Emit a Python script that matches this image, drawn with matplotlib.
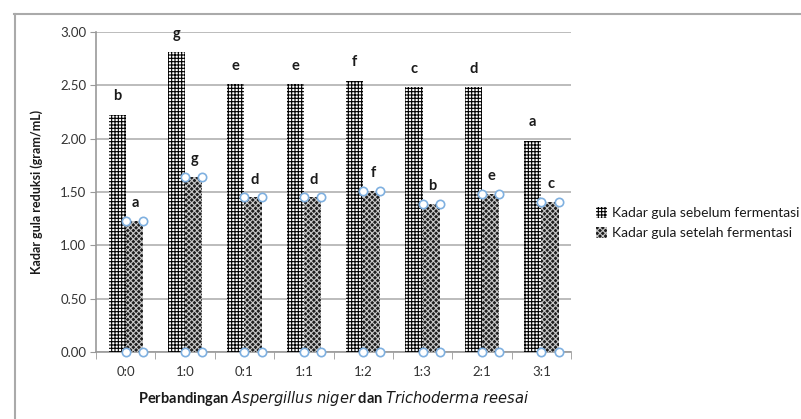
import matplotlib
matplotlib.use("Agg")
import matplotlib.pyplot as plt
import numpy as np

plt.rcParams['font.family'] = ['Lato', 'DejaVu Sans']
plt.rcParams['hatch.linewidth'] = 0.8

categories = ["0:0", "1:0", "0:1", "1:1", "1:2", "1:3", "2:1", "3:1"]
sebelum = [2.22, 2.81, 2.51, 2.51, 2.54, 2.48, 2.48, 1.98]
setelah = [1.23, 1.64, 1.45, 1.45, 1.51, 1.39, 1.48, 1.41]
letters_sebelum = ["b", "g", "e", "e", "f", "c", "d", "a"]
letters_setelah = ["a", "g", "d", "d", "f", "b", "e", "c"]
yticks = [0.0, 0.5, 1.0, 1.5, 2.0, 2.5, 3.0]

fig = plt.figure(figsize=(8.01, 4.19), dpi=100)
ax = fig.add_axes([0.1199, 0.1599, 0.593, 0.7637])

x = np.arange(len(categories))
w = 0.29
ax.bar(x - w/2, sebelum, w, facecolor='white', edgecolor='black', hatch='+++++', linewidth=0, zorder=3, label='Kadar gula sebelum fermentasi')
ax.bar(x + w/2, setelah, w, facecolor='#1e1e1e', edgecolor='#c8c8c8', hatch='xxxxxx', linewidth=0, zorder=3, label='Kadar gula setelah fermentasi')

# selection handles on the second series
for xi, v in zip(x, setelah):
    xs = [xi, xi + w, xi, xi + w]
    ys = [v, v, 0, 0]
    ax.plot(xs, ys, 'o', ms=6, mfc='white', mec='#7fb0e0', mew=1.2, ls='none', zorder=5, clip_on=False)

for xi, v, l in zip(x, sebelum, letters_sebelum):
    ax.text(xi - w/2, v + 0.11, l, ha='center', va='bottom', fontsize=10.5, fontweight='bold', color='#1a1a1a')
for xi, v, l in zip(x, setelah, letters_setelah):
    ax.text(xi + w/2 + 0.02, v + 0.1, l, ha='center', va='bottom', fontsize=10.5, fontweight='bold', color='#1a1a1a')

ax.set_xlim(-0.5, len(categories) - 0.5)
ax.set_ylim(0, 3.0)
ax.set_yticks(yticks)
ax.set_yticklabels([f"{t:.2f}" for t in yticks], fontsize=9.5, color='#333333')
ax.set_xticks(x)
ax.set_xticklabels(categories, fontsize=9.5, color='#333333')
ax.tick_params(axis='x', length=0, pad=10)
ax.tick_params(axis='y', length=4, color='#999999', pad=3)
ax.set_xticks(np.arange(-0.5, len(categories), 1.0), minor=True)
ax.tick_params(axis='x', which='minor', length=5, color='#999999')
ax.grid(axis='y', color='#b0b0b0', linewidth=1.2, zorder=0)
for s in ['top', 'right']:
    ax.spines[s].set_visible(False)
for s in ['left', 'bottom']:
    ax.spines[s].set_color('#999999')
    ax.spines[s].set_linewidth(1.2)

ax.set_ylabel('Kadar gula reduksi (gram/mL)', fontsize=9, fontweight='bold', color='#1a1a1a', labelpad=12)
ax.set_xlabel(r'Perbandingan $\mathbf{\it{Aspergillus\ niger}}$ dan $\mathbf{\it{Trichoderma\ reesai}}$',
              fontsize=10.5, fontweight='bold', color='#1a1a1a', labelpad=8)

leg = fig.legend(loc='upper left', bbox_to_anchor=(0.728, 0.535), frameon=False, fontsize=10,
                 handlelength=0.8, handleheight=0.8, handletextpad=0.4, labelspacing=0.55)
for t in leg.get_texts():
    t.set_color('#1a1a1a')

# chart-area frame
fig.add_artist(plt.Line2D([0.018, 1.0], [0.966, 0.966], color='#aaaaaa', lw=1.5, transform=fig.transFigure))
fig.add_artist(plt.Line2D([0.019, 0.019], [0.0, 0.966], color='#aaaaaa', lw=1.5, transform=fig.transFigure))

fig.savefig('out.png', dpi=100)
